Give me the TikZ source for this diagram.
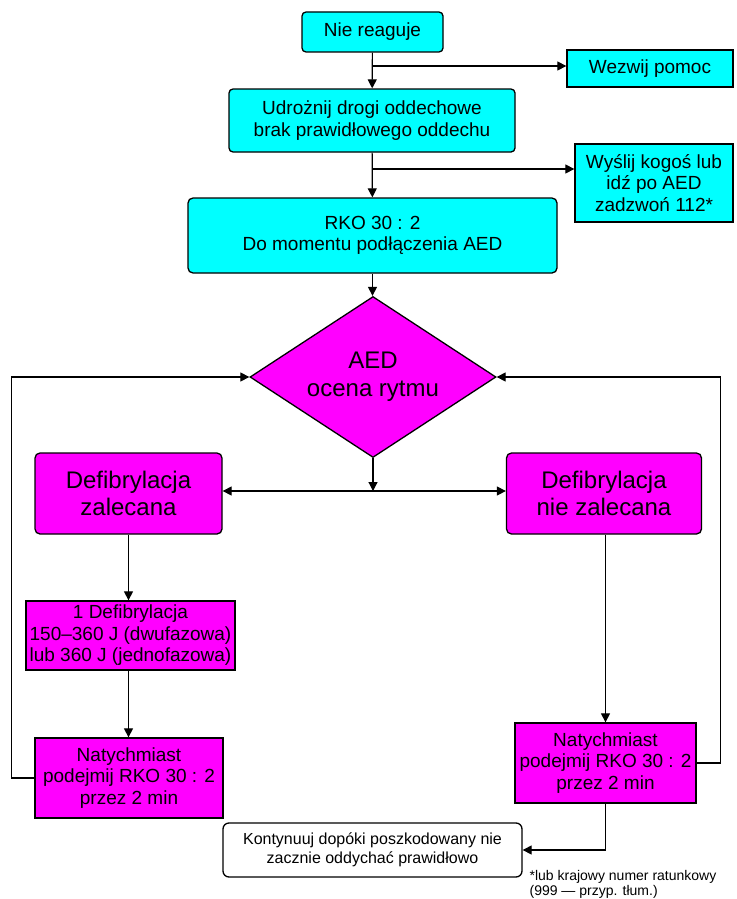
\documentclass[tikz,border=0pt]{standalone}
\usepackage{fontspec}
\setmainfont{Liberation Sans}
\usetikzlibrary{positioning,shapes.geometric,arrows.meta}
\definecolor{cyjan}{RGB}{0,255,255}
\definecolor{fiolet}{RGB}{255,0,255}

\begin{document}
\begin{tikzpicture}[x=1pt, y=-1pt, line width=1.2pt,
  box/.style={draw, line width=1.3pt, align=center, inner sep=0pt},
  cbox/.style={box, fill=cyjan, font=\fontsize{19}{21.5}\selectfont},
  mbox/.style={box, fill=fiolet, font=\fontsize{19}{21.5}\selectfont},
  duzy/.style={font=\fontsize{24}{27}\selectfont},
  arr/.style={-{Triangle[length=9pt,width=9pt]}},
  arr2/.style={{Triangle[length=9pt,width=9pt]}-{Triangle[length=9pt,width=9pt]}}]
\useasboundingbox (0,0) rectangle (736,899);

\node[cbox, rounded corners=4pt, minimum width=141pt, minimum height=40pt] (nie) at (372.5,32) {Nie reaguje};
\node[cbox, minimum width=166pt, minimum height=37pt] (wezwij) at (650,68.5) {Wezwij pomoc};
\node[cbox, rounded corners=4pt, minimum width=286pt, minimum height=63pt] (udr) at (372,120.5) {Udrożnij drogi oddechowe\\brak prawidłowego oddechu};
\node[cbox, minimum width=158pt, minimum height=78pt] (wyslij) at (654,183) {Wyślij kogoś lub\\idź po AED\\zadzwoń 112*};
\node[cbox, rounded corners=5pt, minimum width=369pt, minimum height=75pt] (rko) at (372.5,235.5) {RKO 30 : 2\\Do momentu podłączenia AED};

\node[box, diamond, aspect=1.53, fill=fiolet, minimum width=246pt, minimum height=161pt, font=\fontsize{24}{28}\selectfont] (aed) at (373,377) {AED\\ocena rytmu};

\node[mbox, duzy, rounded corners=5pt, minimum width=187pt, minimum height=81pt] (defl) at (128.5,493.5) {Defibrylacja\\zalecana};
\node[mbox, duzy, rounded corners=5pt, minimum width=195pt, minimum height=81pt] (defr) at (604,493.5) {Defibrylacja\\nie zalecana};
\node[mbox, minimum width=209pt, minimum height=69pt] (jeden) at (130.5,635.5) {1 Defibrylacja\\150–360 J (dwufazowa)\\lub 360 J (jednofazowa)};
\node[mbox, minimum width=188pt, minimum height=80pt] (natl) at (129,778) {Natychmiast\\podejmij RKO 30 : 2\\przez 2 min};
\node[mbox, minimum width=181pt, minimum height=80pt] (natr) at (605.5,763) {Natychmiast\\podejmij RKO 30 : 2\\przez 2 min};
\node[box, rounded corners=6pt, fill=white, minimum width=299pt, minimum height=54pt, font=\fontsize{16}{19}\selectfont] (kont) at (372.5,850) {Kontynuuj dopóki poszkodowany nie\\zacznie oddychać prawidłowo};
\node[anchor=north west, align=left, inner sep=0pt, font=\fontsize{14}{15}\selectfont] (przyp) at (529,870) {*lub krajowy numer ratunkowy\\(999 — przyp. tłum.)};

\coordinate (br1) at (372.5,66);
\coordinate (br2) at (372.5,169);
\coordinate (br3) at (373,491);

\draw[arr] (nie) -- (udr);
\draw[arr] (br1) -- (br1 -| wezwij.west);
\draw[arr] (udr) -- (rko);
\draw[arr] (br2) -- (br2 -| wyslij.west);
\draw[arr] (rko.south) -- (rko.south |- aed.north);
\draw[arr] (aed.south) -- (br3);
\draw[arr2] (br3 -| defl.east) -- (br3 -| defr.west);
\draw[arr] (defl.south) -- (defl.south |- jeden.north);
\draw[arr] (jeden.south -| defl.south) -- (defl.south |- natl.north);
\draw[arr] (natr.north |- defr.south) -- (natr.north);
\draw[arr] (natl.west) -- ++(-23,0) |- (aed.west);
\draw[arr] (natr.east) -- ++(24,0) |- (aed.east);
\draw[arr] (natr.south) |- (kont.east);
\end{tikzpicture}
\end{document}
